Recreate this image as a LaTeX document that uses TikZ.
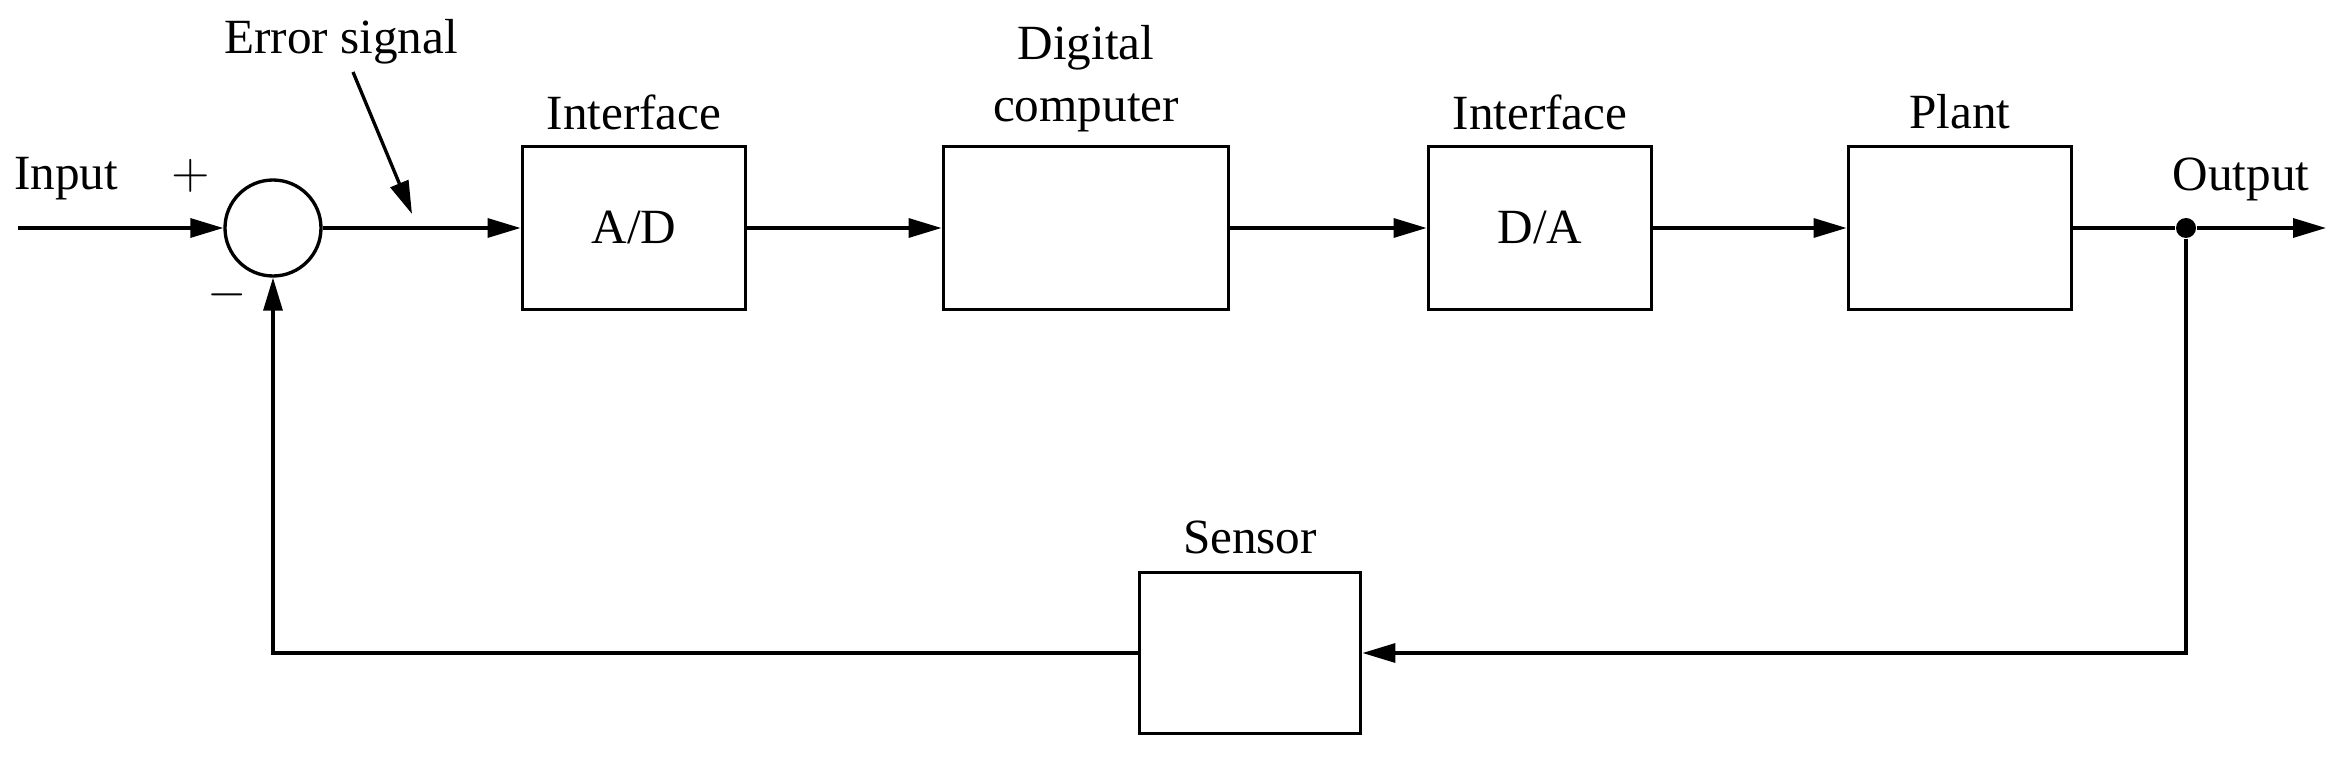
\documentclass[tikz,border=0pt]{standalone}
\usepackage{fontspec}
\setmainfont{Liberation Serif}
\usetikzlibrary{arrows.meta}

\tikzset{
  blk/.style={draw, line width=1.1pt, minimum width=2.23cm, minimum height=1.63cm, inner sep=0pt, font=\fontsize{14}{16}\selectfont},
  sig/.style={-{Triangle[length=0.33cm,width=0.19cm]}, line width=0.95pt},
  lbl/.style={font=\fontsize{14}{17.6}\selectfont, inner sep=0pt, align=center}
}

\begin{document}
\begin{tikzpicture}
\useasboundingbox (0,0) rectangle (23.38,7.56);

% Summing junction
\node[draw, circle, minimum size=0.96cm, inner sep=0pt, line width=0.95pt] (sum) at (2.73,5.28) {};
\coordinate (in) at (0.18,5.28);
\node[lbl] (inlbl) at (0.66,5.77) {Input};
\node[lbl] (plus) at (1.91,5.80) {$+$};
\node[lbl] (minus) at (2.27,4.61) {$-$};

% Forward path blocks
\node[blk] (ad) at (6.34,5.28) {A/D};
\node[blk, minimum width=2.85cm] (comp) at (10.86,5.28) {};
\node[blk] (da) at (15.40,5.28) {D/A};
\node[blk] (plant) at (19.60,5.28) {};

% Block labels
\node[lbl] (adlbl) at (6.34,6.44) {Interface};
\node[lbl] (complbl) at (10.86,6.77) {Digital\\computer};
\node[lbl] (dalbl) at (15.40,6.44) {Interface};
\node[lbl] (plantlbl) at (19.60,6.44) {Plant};

% Output
\node[circle, fill=black, inner sep=0pt, minimum size=0.2cm] (tap) at (21.86,5.28) {};
\coordinate (out) at (23.26,5.28);
\node[lbl] (outlbl) at (22.41,5.77) {Output};

% Feedback block
\node[blk, minimum width=2.21cm, minimum height=1.61cm] (sensor) at (12.50,1.03) {};
\node[lbl] (senslbl) at (12.50,2.19) {Sensor};

% Error signal pointer
\node[lbl] (errlbl) at (3.41,7.14) {Error signal};
\coordinate (errtail) at (3.53,6.84);
\coordinate (errtip) at (4.12,5.42);
\draw[sig] (errtail) -- (errtip);

% Signal flow
\draw[sig] (in) -- (sum);
\draw[sig] (sum) -- (ad);
\draw[sig] (ad) -- (comp);
\draw[sig] (comp) -- (da);
\draw[sig] (da) -- (plant);
\draw[line width=0.95pt] (plant) -- (tap);
\draw[sig] (tap) -- (out);

% Feedback loop
\draw[sig] (tap) |- (sensor);
\draw[sig] (sensor) -| (sum);

\end{tikzpicture}
\end{document}
